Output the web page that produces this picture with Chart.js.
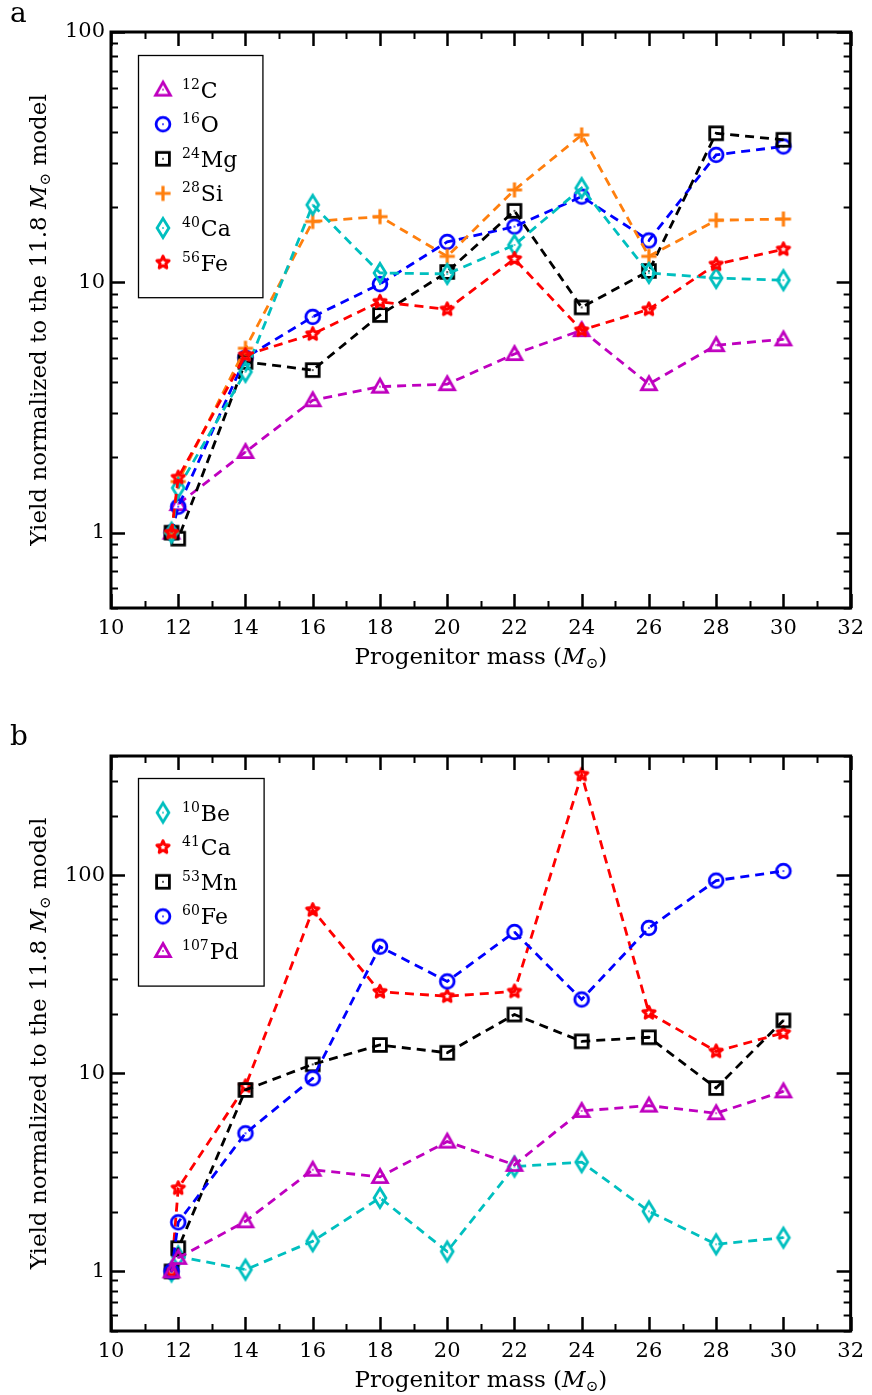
<!DOCTYPE html>
<html>
<head>
<meta charset="utf-8">
<script src="https://cdn.jsdelivr.net/npm/chart.js@4.4.0/dist/chart.umd.min.js"></script>
<style>
  html, body { margin: 0; padding: 0; background: #fff; }
  canvas { display: block; }
</style>
</head>
<body>
<canvas id="chart-a" width="872" height="697"></canvas>
<canvas id="chart-b" width="872" height="698"></canvas>
<script>
// progenitor masses (Msun), shared by both panels
const masses = [11.8, 12, 14, 16, 18, 20, 22, 24, 26, 28, 30];

// panel a: stable isotopes
const massNumbersA = ['12', '16', '24', '28', '40', '56'];
const elementsA = ['C', 'O', 'Mg', 'Si', 'Ca', 'Fe'];
const yieldC12 = [1, 1.3, 2.1, 3.38, 3.83, 3.92, 5.17, 6.44, 3.92, 5.61, 5.92];
const yieldO16 = [1, 1.27, 5.0, 7.28, 9.84, 14.5, 16.7, 22.0, 14.7, 32.3, 34.9];
const yieldMg24 = [1, 0.946, 4.81, 4.46, 7.4, 11.0, 19.3, 7.94, 11.1, 39.4, 37.1];
const yieldSi28 = [1, 1.6, 5.45, 17.5, 18.3, 12.7, 23.4, 38.8, 12.7, 17.7, 17.9];
const yieldCa40 = [1, 1.51, 4.39, 20.4, 10.9, 10.8, 14.1, 23.8, 10.9, 10.4, 10.2];
const yieldFe56 = [1, 1.66, 5.12, 6.21, 8.36, 7.8, 12.4, 6.44, 7.8, 11.8, 13.55];

// panel b: radioactive isotopes
const massNumbersB = ['10', '41', '53', '60', '107'];
const elementsB = ['Be', 'Ca', 'Mn', 'Fe', 'Pd'];
const yieldBe10 = [1, 1.19, 1.02, 1.42, 2.35, 1.26, 3.38, 3.56, 2.01, 1.37, 1.48];
const yieldCa41 = [1, 2.63, 8.6, 66.7, 25.8, 24.5, 25.9, 322, 20.2, 12.9, 16.0];
const yieldMn53 = [1, 1.31, 8.24, 11.1, 13.9, 12.7, 19.8, 14.5, 15.2, 8.43, 18.5];
const yieldFe60 = [1, 1.77, 4.98, 9.44, 43.6, 29.1, 51.7, 23.6, 54.2, 94, 105];
const yieldPd107 = [1, 1.17, 1.79, 3.26, 3.0, 4.52, 3.45, 6.46, 6.87, 6.29, 8.11];

// axes
const xRange = [10, 32];
const xTickLabels = [10, 12, 14, 16, 18, 20, 22, 24, 26, 28, 30, 32];
const yRangeA = [0.5, 100];
const yRangeB = [0.5, 400];
const yTickLabels = [1, 10, 100];

const SERIF = '"DejaVu Serif", "DejaVu Sans", serif';

const stylesA = [
    { shape: 'triangle', color: '#bf00bf' },
    { shape: 'circle', color: '#0000ff' },
    { shape: 'square', color: '#000000' },
    { shape: 'plus', color: '#ff7f0e' },
    { shape: 'diamond', color: '#00bfbf' },
    { shape: 'star', color: '#ff0000' },
];
const stylesB = [
    { shape: 'diamond', color: '#00bfbf' },
    { shape: 'star', color: '#ff0000' },
    { shape: 'square', color: '#000000' },
    { shape: 'circle', color: '#0000ff' },
    { shape: 'triangle', color: '#bf00bf' },
];

// open markers drawn once into small canvases, used as pointStyle
function makeMarker(shape, color) {
    const c = document.createElement('canvas');
    c.width = 26; c.height = 26;
    const g = c.getContext('2d');
    g.translate(13, 13);
    g.strokeStyle = color;
    g.fillStyle = color;
    g.lineWidth = 2.8;
    g.beginPath();
    switch (shape) {
        case 'triangle':
            g.moveTo(0, -7.5); g.lineTo(7.4, 5.6); g.lineTo(-7.4, 5.6); g.closePath();
            break;
        case 'circle':
            g.arc(0, 0, 6.9, 0, Math.PI * 2);
            break;
        case 'square':
            g.rect(-6.4, -6.4, 12.8, 12.8);
            break;
        case 'plus':
            g.lineWidth = 3.2;
            g.moveTo(-7.6, 0); g.lineTo(7.6, 0); g.moveTo(0, -7.6); g.lineTo(0, 7.6);
            break;
        case 'diamond':
            g.moveTo(0, -9.6); g.lineTo(5.9, 0); g.lineTo(0, 9.6); g.lineTo(-5.9, 0); g.closePath();
            break;
        case 'star':
            for (let k = 0; k < 10; k++) {
                const r = k % 2 === 0 ? 6.4 : 3.0;
                const a = -Math.PI / 2 + k * Math.PI / 5;
                if (k === 0) g.moveTo(r * Math.cos(a), r * Math.sin(a));
                else g.lineTo(r * Math.cos(a), r * Math.sin(a));
            }
            g.closePath();
            g.lineJoin = 'round';
            g.lineWidth = 3;
            break;
    }
    g.stroke();
    if (shape !== 'plus' && shape !== 'star') {
        g.fillRect(-0.8, -0.8, 1.6, 1.6);
    }
    return c;
}

function buildDatasets(series, styles, labels) {
    return series.map((vals, i) => ({
        label: labels[i],
        data: masses.map((m, k) => ({ x: m, y: vals[k] })),
        borderColor: styles[i].color,
        backgroundColor: styles[i].color,
        borderWidth: 2.8,
        borderDash: [9, 6],
        pointStyle: makeMarker(styles[i].shape, styles[i].color),
        pointRadius: 8,
        fill: false,
        tension: 0,
        order: series.length - i,
    }));
}

// text made of pieces with different fonts / vertical offsets, centred on x
function drawRich(ctx, parts, x, y) {
    ctx.textAlign = 'left';
    ctx.textBaseline = 'alphabetic';
    let total = 0;
    parts.forEach(p => { ctx.font = p.font; total += ctx.measureText(p.text).width; });
    let cx = x - total / 2;
    parts.forEach(p => {
        ctx.font = p.font;
        ctx.fillText(p.text, cx, y + (p.dy || 0));
        cx += ctx.measureText(p.text).width;
    });
}

const xTitleParts = [
    { text: 'Progenitor mass (', font: `23px ${SERIF}` },
    { text: 'M', font: `italic 23px ${SERIF}` },
    { text: '\u2299', font: `15px ${SERIF}`, dy: 4 },
    { text: ')', font: `23px ${SERIF}` },
];
const yTitleParts = [
    { text: 'Yield normalized to the 11.8 ', font: `23px ${SERIF}` },
    { text: 'M', font: `italic 23px ${SERIF}` },
    { text: '\u2299', font: `15px ${SERIF}`, dy: 4 },
    { text: ' model', font: `23px ${SERIF}` },
];

// frame, inward ticks on all four sides, titles, panel letter and legend
const decorPlugin = {
    id: 'decor',
    afterDraw(chart, args, opts) {
        const ctx = chart.ctx;
        const a = chart.chartArea;
        const xs = chart.scales.x, ys = chart.scales.y;
        ctx.save();
        ctx.strokeStyle = '#000';
        ctx.fillStyle = '#000';

        // x ticks
        for (let v = xRange[0]; v <= xRange[1]; v++) {
            const major = xTickLabels.includes(v);
            const len = major ? 14 : 7;
            const px = Math.round(xs.getPixelForValue(v)) + 0.5;
            ctx.lineWidth = major ? 2.5 : 2;
            ctx.beginPath();
            ctx.moveTo(px, a.bottom); ctx.lineTo(px, a.bottom - len);
            ctx.moveTo(px, a.top); ctx.lineTo(px, a.top + len);
            ctx.stroke();
        }
        // y ticks, log decades
        const [lo, hi] = opts.yRange;
        for (let e = Math.floor(Math.log10(lo)); e <= Math.ceil(Math.log10(hi)); e++) {
            for (let d = 1; d <= 9; d++) {
                const v = d * Math.pow(10, e);
                if (v < lo * 0.999 || v > hi * 1.001) continue;
                const major = d === 1;
                const len = major ? 14 : 7;
                const py = Math.round(ys.getPixelForValue(v)) + 0.5;
                ctx.lineWidth = major ? 2.5 : 2;
                ctx.beginPath();
                ctx.moveTo(a.left, py); ctx.lineTo(a.left + len, py);
                ctx.moveTo(a.right, py); ctx.lineTo(a.right - len, py);
                ctx.stroke();
            }
        }
        // frame
        ctx.lineWidth = 3;
        ctx.strokeRect(a.left, a.top, a.right - a.left, a.bottom - a.top);

        // axis titles
        drawRich(ctx, xTitleParts, (a.left + a.right) / 2, a.bottom + 56);
        ctx.save();
        ctx.translate(46, (a.top + a.bottom) / 2);
        ctx.rotate(-Math.PI / 2);
        drawRich(ctx, yTitleParts, 0, 0);
        ctx.restore();

        // panel letter
        ctx.font = `28px ${SERIF}`;
        ctx.textAlign = 'left';
        ctx.fillText(opts.letter, 10, opts.letterY);

        // legend
        const supFont = `14px ${SERIF}`, elFont = `22px ${SERIF}`;
        let maxW = 0;
        opts.massNumbers.forEach((mn, i) => {
            ctx.font = supFont; let w = ctx.measureText(mn).width + 1;
            ctx.font = elFont; w += ctx.measureText(opts.elements[i]).width;
            maxW = Math.max(maxW, w);
        });
        const n = opts.massNumbers.length;
        const step = 34.6;
        const bx = a.left + 27, by = a.top + opts.legendTop;
        const bw = 44 + maxW + 25, bh = step * (n + 1);
        ctx.fillStyle = '#fff';
        ctx.fillRect(bx, by, bw, bh);
        ctx.lineWidth = 1.3;
        ctx.strokeStyle = '#000';
        ctx.strokeRect(bx + 0.5, by + 0.5, bw, bh);
        chart.data.datasets.forEach((ds, i) => {
            const cy = by + step * (i + 1);
            ctx.drawImage(ds.pointStyle, bx + 25 - 13, cy - 13);
            ctx.fillStyle = '#000';
            ctx.font = supFont;
            ctx.fillText(opts.massNumbers[i], bx + 44, cy - 1);
            const sw = ctx.measureText(opts.massNumbers[i]).width + 1;
            ctx.font = elFont;
            ctx.fillText(opts.elements[i], bx + 44 + sw, cy + 8);
        });
        ctx.restore();
    },
};

function makeOptions(yRange, padding, decor) {
    const tickFont = { family: SERIF, size: 21 };
    return {
        responsive: false,
        animation: false,
        devicePixelRatio: 1,
        layout: { padding: padding },
        plugins: {
            legend: { display: false },
            tooltip: { enabled: false },
            decor: decor,
        },
        scales: {
            x: {
                type: 'linear',
                min: xRange[0], max: xRange[1],
                grid: { display: false, drawTicks: false },
                border: { display: false },
                afterBuildTicks: s => { s.ticks = xTickLabels.map(v => ({ value: v })); },
                afterFit: s => { s.height = 60; },
                ticks: { padding: 8, color: '#000', font: tickFont, maxRotation: 0, autoSkip: false,
                         callback: v => String(v) },
            },
            y: {
                type: 'logarithmic',
                min: yRange[0], max: yRange[1],
                grid: { display: false, drawTicks: false },
                border: { display: false },
                afterBuildTicks: s => { s.ticks = yTickLabels.map(v => ({ value: v })); },
                afterFit: s => { s.width = 111; },
                ticks: { padding: 6, color: '#000', font: tickFont, autoSkip: false,
                         callback: v => String(v) },
            },
        },
    };
}

new Chart(document.getElementById('chart-a').getContext('2d'), {
    type: 'line',
    data: {
        datasets: buildDatasets(
            [yieldC12, yieldO16, yieldMg24, yieldSi28, yieldCa40, yieldFe56],
            stylesA,
            massNumbersA.map((m, i) => m + elementsA[i])),
    },
    options: makeOptions(yRangeA, { left: 0, right: 17, top: 32, bottom: 29 }, {
        letter: 'a', letterY: 22, yRange: yRangeA, legendTop: 23,
        massNumbers: massNumbersA, elements: elementsA,
    }),
    plugins: [decorPlugin],
});

new Chart(document.getElementById('chart-b').getContext('2d'), {
    type: 'line',
    data: {
        datasets: buildDatasets(
            [yieldBe10, yieldCa41, yieldMn53, yieldFe60, yieldPd107],
            stylesB,
            massNumbersB.map((m, i) => m + elementsB[i])),
    },
    options: makeOptions(yRangeB, { left: 0, right: 17, top: 59, bottom: 4 }, {
        letter: 'b', letterY: 48, yRange: yRangeB, legendTop: 22,
        massNumbers: massNumbersB, elements: elementsB,
    }),
    plugins: [decorPlugin],
});
</script>
</body>
</html>
